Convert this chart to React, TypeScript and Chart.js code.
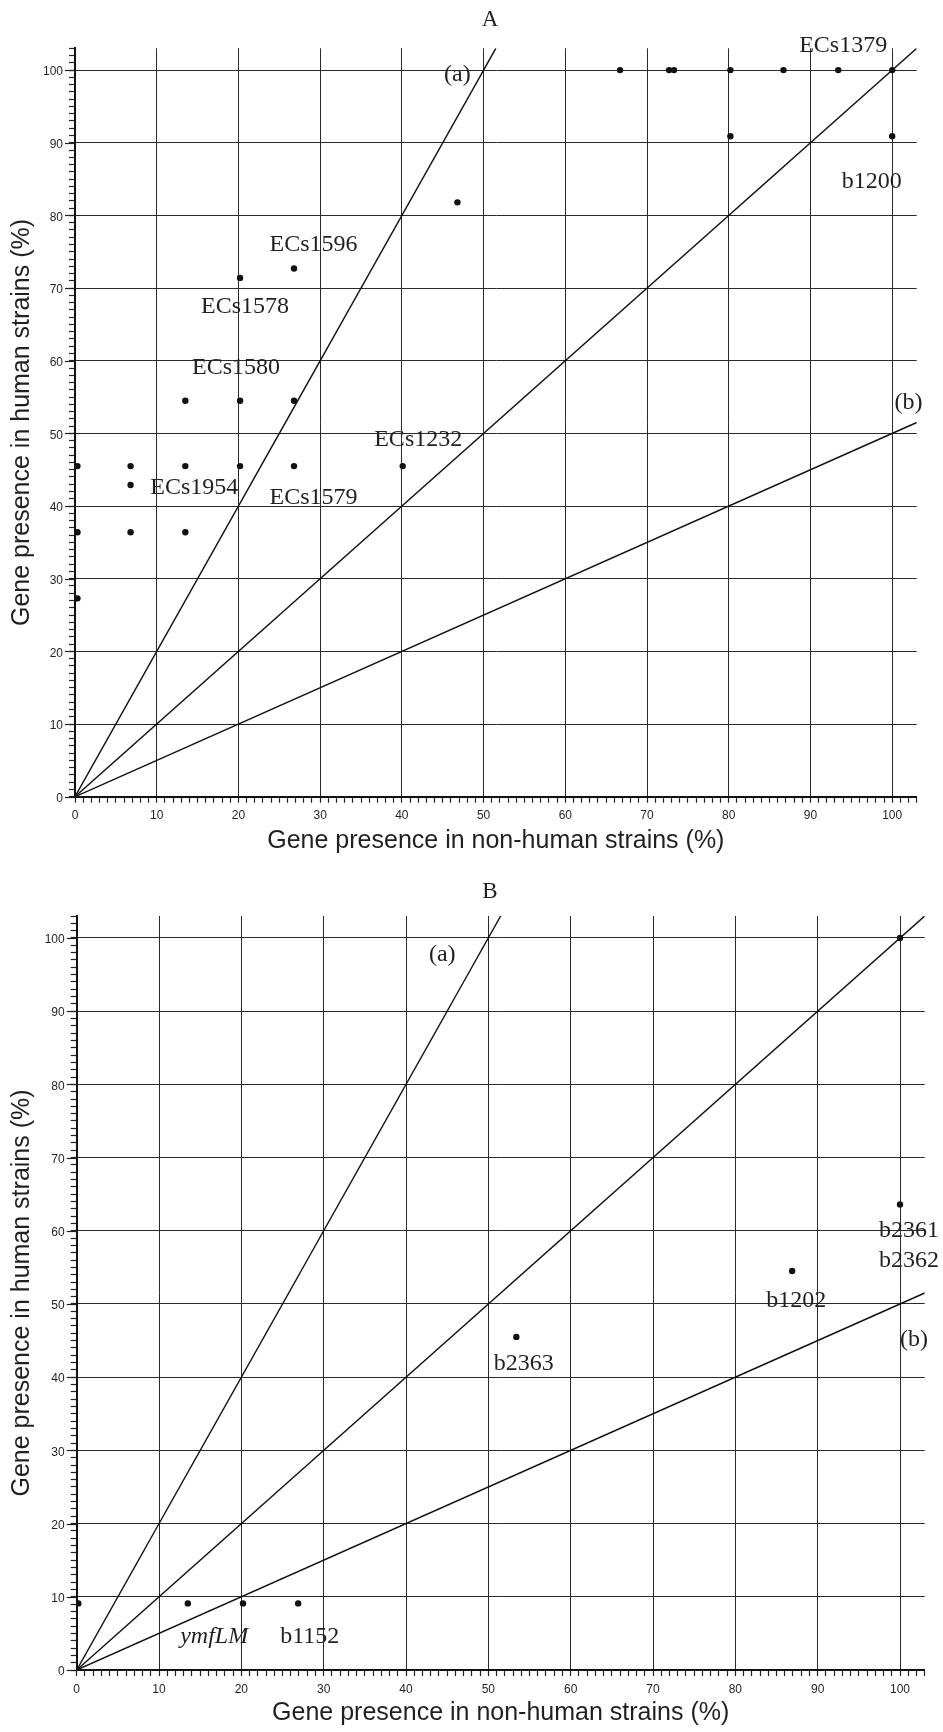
import React, { useEffect, useRef } from 'react';
import { Chart, registerables } from 'chart.js';

Chart.register(...registerables);

const SANS = '"Liberation Sans", Arial, Helvetica, sans-serif';
const SERIF = '"Liberation Serif", "Times New Roman", serif';
const INK = '#231f20';

// Shared axis content
const X_TITLE = 'Gene presence in non-human strains (%)';
const Y_TITLE = 'Gene presence in human strains (%)';
const AXIS_MIN = 0;
const AXIS_MAX = 103;
const MAJOR_TICKS = [0, 10, 20, 30, 40, 50, 60, 70, 80, 90, 100];

// Reference lines: (a) human = 2 x non-human, diagonal, (b) human = 0.5 x non-human
const lineAX = [0, 51.5];
const lineAY = [0, 103];
const lineEqX = [0, 103];
const lineEqY = [0, 103];
const lineBX = [0, 103];
const lineBY = [0, 51.5];

// Panel A
const aTitle = 'A';
const aNonHuman = [66.7, 72.7, 73.3, 80.2, 86.7, 93.4, 100, 80.2, 100, 46.8, 26.8, 20.2, 13.5, 20.2, 26.8, 0.3, 6.8, 13.5, 20.2, 26.8, 40.1, 6.8, 0.3, 6.8, 13.5, 0.3];
const aHuman = [100, 100, 100, 100, 100, 100, 100, 90.9, 90.9, 81.8, 72.7, 71.4, 54.5, 54.5, 54.5, 45.5, 45.5, 45.5, 45.5, 45.5, 45.5, 42.9, 36.4, 36.4, 36.4, 27.3];
const aLabels = ['ECs1596', 'ECs1578', 'ECs1580', 'ECs1232', 'ECs1954', 'ECs1579', 'ECs1379', 'b1200', '(a)', '(b)'];
const aLabelX = [29.2, 20.8, 19.7, 42.0, 14.6, 29.2, 94.0, 97.5, 46.8, 102.0];
const aLabelY = [76.0, 67.5, 59.1, 49.2, 42.5, 41.1, 103.3, 84.7, 99.4, 54.2];
const aLabelItalic = [false, false, false, false, false, false, false, false, false, false];

// Panel B
const bTitle = 'B';
const bNonHuman = [0.2, 13.5, 20.2, 26.9, 53.4, 86.9, 100, 100];
const bHuman = [9.1, 9.1, 9.1, 9.1, 45.5, 54.5, 63.6, 100];
const bLabels = ['(a)', 'b2363', 'b1202', 'b2361', 'b2362', '(b)', 'ymfLM', 'b1152'];
const bLabelX = [44.4, 54.3, 87.4, 101.1, 101.1, 101.7, 16.7, 28.3];
const bLabelY = [97.7, 41.9, 50.5, 60.0, 55.9, 45.1, 4.6, 4.6];
const bLabelItalic = [false, false, false, false, false, false, true, false];

type Layout = {
  top: number; height: number; padTop: number; padRight: number;
  yWidth: number; xHeight: number; xTitlePad: number; titleX: number; titleY: number;
};

type PanelSpec = {
  title: string; xs: number[]; ys: number[];
  labels: string[]; lx: number[]; ly: number[]; italic: boolean[];
  layout: Layout;
};

const pts = (xs: number[], ys: number[]) => xs.map((x, i) => ({ x, y: ys[i] }));

function annotationPlugin(spec: PanelSpec) {
  return {
    id: 'annot',
    afterDatasetsDraw(chart: any) {
      const { ctx, chartArea } = chart;
      const xs = chart.scales.x;
      const ys = chart.scales.y;
      ctx.save();
      // longer major ticks on the y axis
      ctx.strokeStyle = '#222';
      ctx.lineWidth = 1.2;
      MAJOR_TICKS.forEach((v) => {
        const py = Math.round(ys.getPixelForValue(v)) + 0.5;
        ctx.beginPath();
        ctx.moveTo(chartArea.left - 10, py);
        ctx.lineTo(chartArea.left, py);
        ctx.stroke();
      });
      ctx.fillStyle = INK;
      ctx.textAlign = 'center';
      ctx.textBaseline = 'middle';
      spec.labels.forEach((t, i) => {
        ctx.font = `${spec.italic[i] ? 'italic ' : ''}24px ${SERIF}`;
        ctx.fillText(t, xs.getPixelForValue(spec.lx[i]), ys.getPixelForValue(spec.ly[i]));
      });
      ctx.font = `23px ${SERIF}`;
      ctx.fillText(spec.title, spec.layout.titleX, spec.layout.titleY);
      ctx.restore();
    },
  };
}

function axis(kind: 'x' | 'y', L: Layout) {
  const isX = kind === 'x';
  return {
    type: 'linear',
    position: isX ? 'bottom' : 'left',
    min: AXIS_MIN,
    max: AXIS_MAX,
    afterFit: (s: any) => {
      if (isX) s.height = L.xHeight;
      else s.width = L.yWidth;
    },
    ticks: {
      stepSize: 1,
      autoSkip: false,
      maxRotation: 0,
      minRotation: 0,
      padding: isX ? 6 : 6,
      labelOffset: isX ? 0 : 2,
      color: INK,
      font: { family: SANS, size: 12 },
      callback: (v: any) => (MAJOR_TICKS.includes(Number(v)) ? String(v) : ''),
    },
    grid: {
      color: (c: any) => (c.tick && MAJOR_TICKS.includes(c.tick.value) ? '#2a2a2a' : 'rgba(0,0,0,0)'),
      lineWidth: 1,
      drawTicks: true,
      tickLength: 6,
      tickColor: '#222',
      tickWidth: 1.2,
    },
    border: { display: true, color: '#111', width: 2 },
    title: {
      display: true,
      text: isX ? X_TITLE : Y_TITLE,
      color: INK,
      font: { family: SANS, size: 25, lineHeight: 1.2 },
      padding: isX ? { top: 0, bottom: L.xTitlePad } : { top: 7, bottom: 0 },
    },
  };
}

function buildConfig(spec: PanelSpec): any {
  const L = spec.layout;
  const lineStyle = { showLine: true, borderColor: '#111', borderWidth: 1.4, pointRadius: 0, fill: false };
  return {
    type: 'scatter',
    data: {
      datasets: [
        { label: '(a)', data: pts(lineAX, lineAY), ...lineStyle },
        { label: 'equal', data: pts(lineEqX, lineEqY), ...lineStyle },
        { label: '(b)', data: pts(lineBX, lineBY), ...lineStyle },
        {
          label: 'genes',
          data: pts(spec.xs, spec.ys),
          backgroundColor: '#111',
          borderColor: '#111',
          borderWidth: 0,
          pointRadius: 3.2,
        },
      ],
    },
    options: {
      animation: false,
      responsive: false,
      maintainAspectRatio: false,
      devicePixelRatio: 1,
      layout: { padding: { left: 0, right: L.padRight, top: L.padTop, bottom: 0 } },
      plugins: { legend: { display: false }, tooltip: { enabled: false }, title: { display: false } },
      scales: { x: axis('x', L), y: axis('y', L) },
    },
    plugins: [annotationPlugin(spec)],
  };
}

const panelA: PanelSpec = {
  title: aTitle, xs: aNonHuman, ys: aHuman,
  labels: aLabels, lx: aLabelX, ly: aLabelY, italic: aLabelItalic,
  layout: { top: 0, height: 866, padTop: 48.3, padRight: 26.3, yWidth: 75, xHeight: 69.3, xTitlePad: 10, titleX: 490, titleY: 20 },
};

const panelB: PanelSpec = {
  title: bTitle, xs: bNonHuman, ys: bHuman,
  labels: bLabels, lx: bLabelX, ly: bLabelY, italic: bLabelItalic,
  layout: { top: 866, height: 866, padTop: 50, padRight: 18.3, yWidth: 76.7, xHeight: 62, xTitlePad: 4, titleX: 490, titleY: 26 },
};

function Panel({ spec }: { spec: PanelSpec }) {
  const ref = useRef<HTMLCanvasElement>(null);
  useEffect(() => {
    if (!ref.current) return;
    const chart = new Chart(ref.current, buildConfig(spec));
    return () => chart.destroy();
  }, [spec]);
  return (
    <canvas
      ref={ref}
      width={943}
      height={spec.layout.height}
      style={{ position: 'absolute', left: 0, top: spec.layout.top, width: 943, height: spec.layout.height, display: 'block' }}
    />
  );
}

export default function App() {
  return (
    <div style={{ position: 'absolute', left: 0, top: 0, width: 943, height: 1732, background: '#fff' }}>
      <Panel spec={panelA} />
      <Panel spec={panelB} />
    </div>
  );
}
